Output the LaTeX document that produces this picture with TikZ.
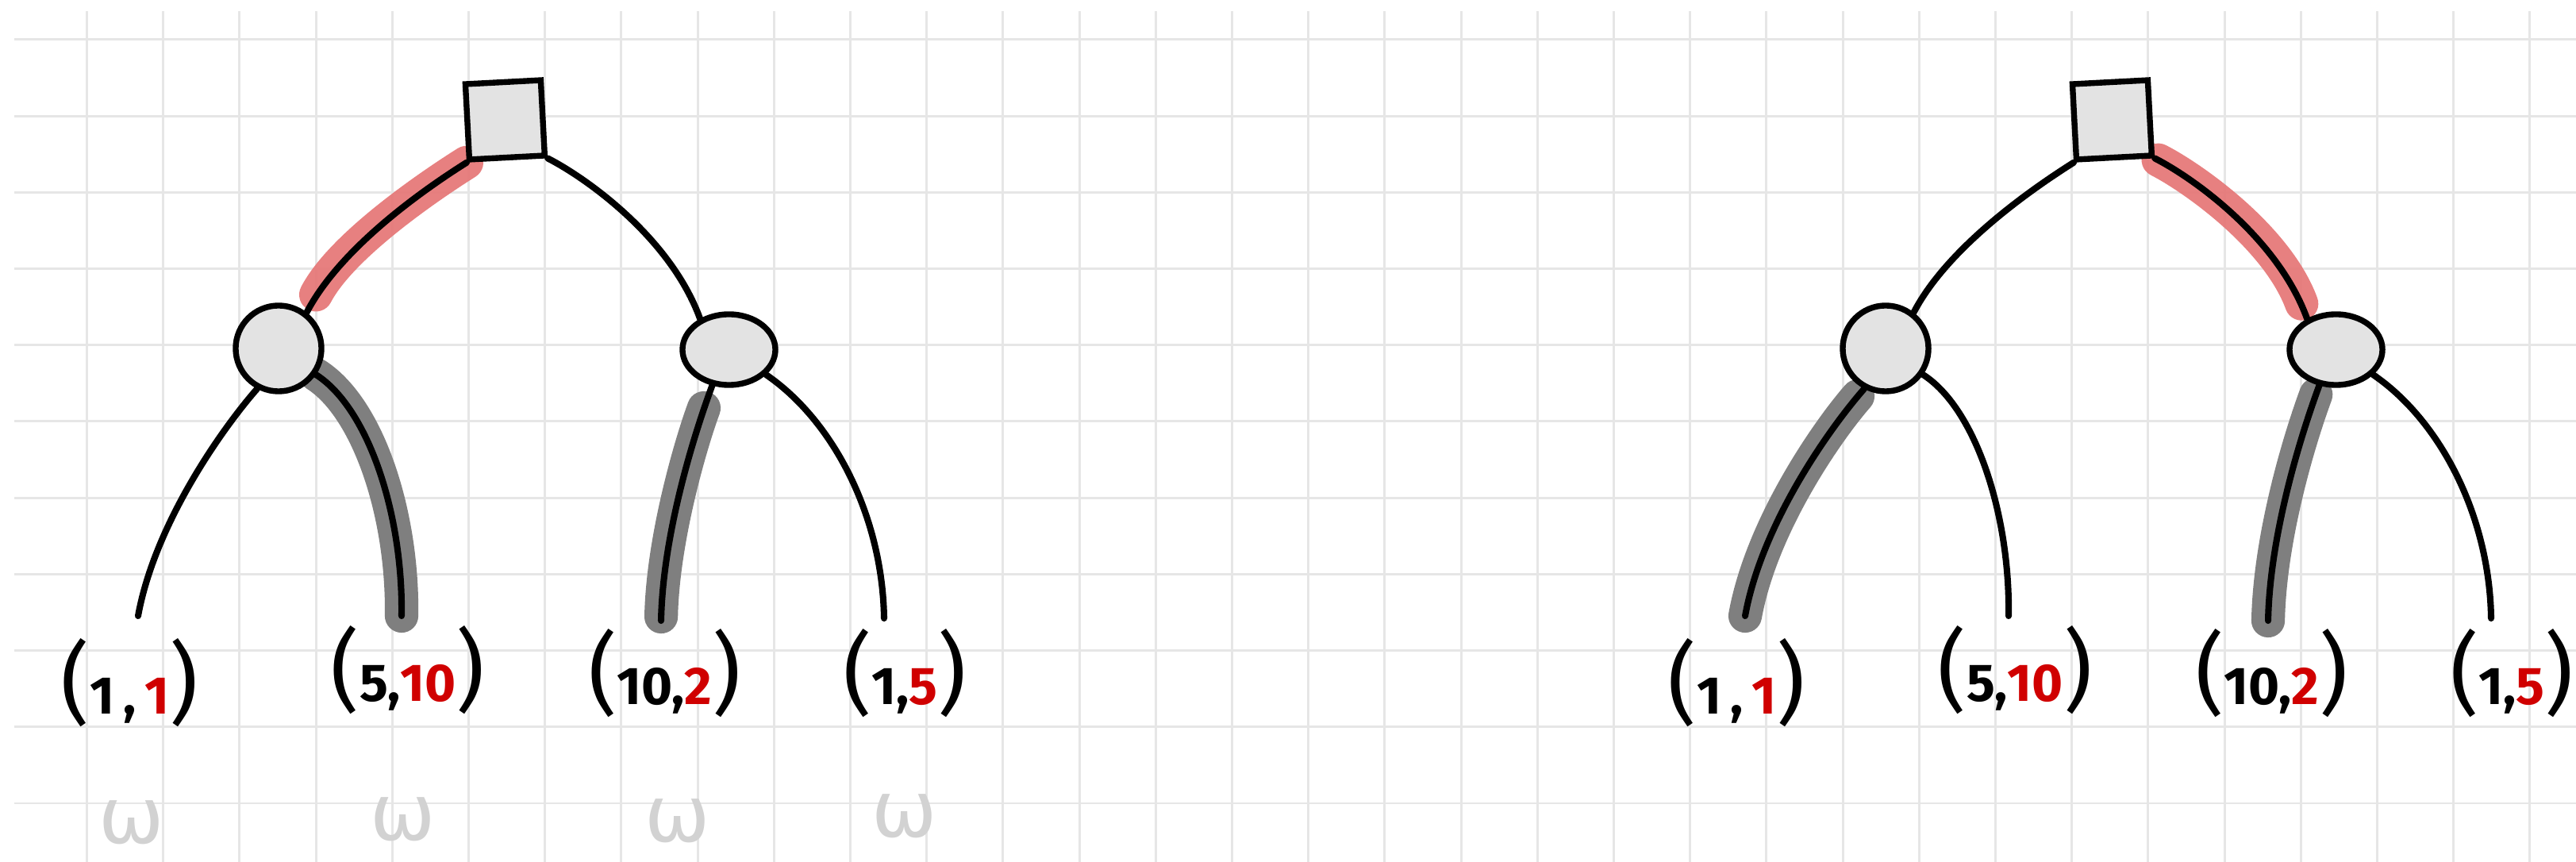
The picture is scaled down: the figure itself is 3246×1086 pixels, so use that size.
\documentclass[tikz,border=0pt]{standalone}
\usepackage{fontspec}
\setmainfont{Fira Sans}
\newfontfamily\omegafont{DejaVu Sans}
\usetikzlibrary{shapes.geometric,calc}
\definecolor{gridc}{HTML}{E6E6E6}
\definecolor{nodefill}{HTML}{E3E3E3}
\definecolor{hlredc}{HTML}{E57373}
\definecolor{hlgrayc}{HTML}{7F7F7F}
\definecolor{numred}{HTML}{D00000}
\definecolor{omegac}{HTML}{D2D2D2}
\pgfdeclarelayer{gridlayer}
\pgfdeclarelayer{hllayer}
\pgfdeclarelayer{edgelayer}
\pgfsetlayers{gridlayer,hllayer,edgelayer,main}
\tikzset{
  gridline/.style={draw=gridc, line width=0.85pt},
  edge/.style={draw=black, line width=2.3pt, line cap=round},
  chance/.style={draw=black, fill=nodefill, line width=2.1pt, inner sep=0pt},
  sqnode/.style={draw=black, fill=nodefill, line width=2.1pt, inner sep=0pt, rectangle, minimum size=0.95cm, rotate=3},
  hlred/.style={draw=hlredc, line width=12pt, line cap=round, opacity=0.9},
  hlgray/.style={draw=hlgrayc, line width=12pt, line cap=round},
  leaflabel/.style={font=\bfseries\fontsize{19}{19}\selectfont, inner sep=0pt},
  omega/.style={font=\omegafont\fontsize{28}{28}\selectfont, text=omegac, inner sep=0pt},
}
\newcommand{\bigp}[1]{{\mdseries\fontsize{32}{32}\selectfont #1}}
\newcommand{\rn}[1]{\textcolor{numred}{#1}}
% #1 suffix, #2 x shift, #3..#8 highlight styles for the six edges
\newcommand{\gtree}[8]{%
\begin{scope}[shift={(#2,0)}]
  \node[sqnode] (sq#1) at (636.4,151) {};
  \node[chance, circle, minimum size=1.08cm] (ca#1) at (351,439) {};
  \node[chance, ellipse, minimum width=1.17cm, minimum height=0.89cm] (cb#1) at (918.5,440.5) {};
  \coordinate (l1#1) at (174,776);
  \coordinate (l2#1) at (506,776);
  \coordinate (l3#1) at (833,782);
  \coordinate (l4#1) at (1114,779);
  \node[leaflabel] (t1#1) at (163.5,860) {\bigp{(}1\,,\,\rn{1}\bigp{)}};
  \node[leaflabel] (t2#1) at (514,844) {\bigp{(}5,\rn{10}\bigp{)}};
  \node[leaflabel] (t3#1) at (837.5,848) {\bigp{(}10,\rn{2}\bigp{)}};
  \node[leaflabel] (t4#1) at (1140,848) {\bigp{(}1,\rn{5}\bigp{)}};
  \begin{pgfonlayer}{edgelayer}
    \draw[edge] (sq#1.south west) .. controls (540,235) and (430,310) .. (ca#1.52);
    \draw[edge] (sq#1.south east) .. controls (740,225) and (845,300) .. (cb#1.133);
    \draw[edge] (ca#1.242) .. controls (280,540) and (195,660) .. (l1#1);
    \draw[edge] (ca#1.-35) .. controls (465,515) and (508,650) .. (l2#1);
    \draw[edge] (cb#1.-115) .. controls (870,560) and (835,680) .. (l3#1);
    \draw[edge] (cb#1.-34) .. controls (1050,530) and (1112,650) .. (l4#1);
  \end{pgfonlayer}
  \begin{pgfonlayer}{hllayer}
    \draw[#3] (sq#1.south west) .. controls (540,235) and (430,310) .. (ca#1.52);
    \draw[#4] (sq#1.south east) .. controls (740,225) and (845,300) .. (cb#1.133);
    \draw[#5] (ca#1.242) .. controls (280,540) and (195,660) .. (l1#1);
    \draw[#6] (ca#1.-35) .. controls (465,515) and (508,650) .. (l2#1);
    \draw[#7] (cb#1.-115) .. controls (870,560) and (835,680) .. (l3#1);
    \draw[#8] (cb#1.-34) .. controls (1050,530) and (1112,650) .. (l4#1);
  \end{pgfonlayer}
\end{scope}}
\begin{document}
\begin{tikzpicture}[x=0.01cm, y=-0.01cm]
  \useasboundingbox (0,0) rectangle (3246,1086);
  \begin{pgfonlayer}{gridlayer}
    \fill[white] (0,0) rectangle (3246,1086);
    \foreach \k in {0,...,10} \draw[gridline] (18,{50+96.2*\k}) -- (3246,{50+96.2*\k});
    \foreach \k in {0,...,32} \draw[gridline] ({109.5+96.2*\k},14) -- ({109.5+96.2*\k},1086);
  \end{pgfonlayer}
  \gtree{A}{0}{hlred, shorten >=0.25cm}{draw=none}{draw=none}{hlgray}{hlgray, shorten <=0.3cm, shorten >=0.05cm}{draw=none}
  \gtree{B}{2025}{draw=none}{hlred, shorten <=0.05cm, shorten >=0.2cm}{hlgray, shorten <=0.12cm}{draw=none}{hlgray, shorten <=0.12cm}{draw=none}
  \node[omega] (w1) at (166,1036) {ω};
  \node[omega] (w2) at (508,1032) {ω};
  \node[omega] (w3) at (854,1034) {ω};
  \node[omega] (w4) at (1140,1028) {ω};
\end{tikzpicture}
\end{document}
